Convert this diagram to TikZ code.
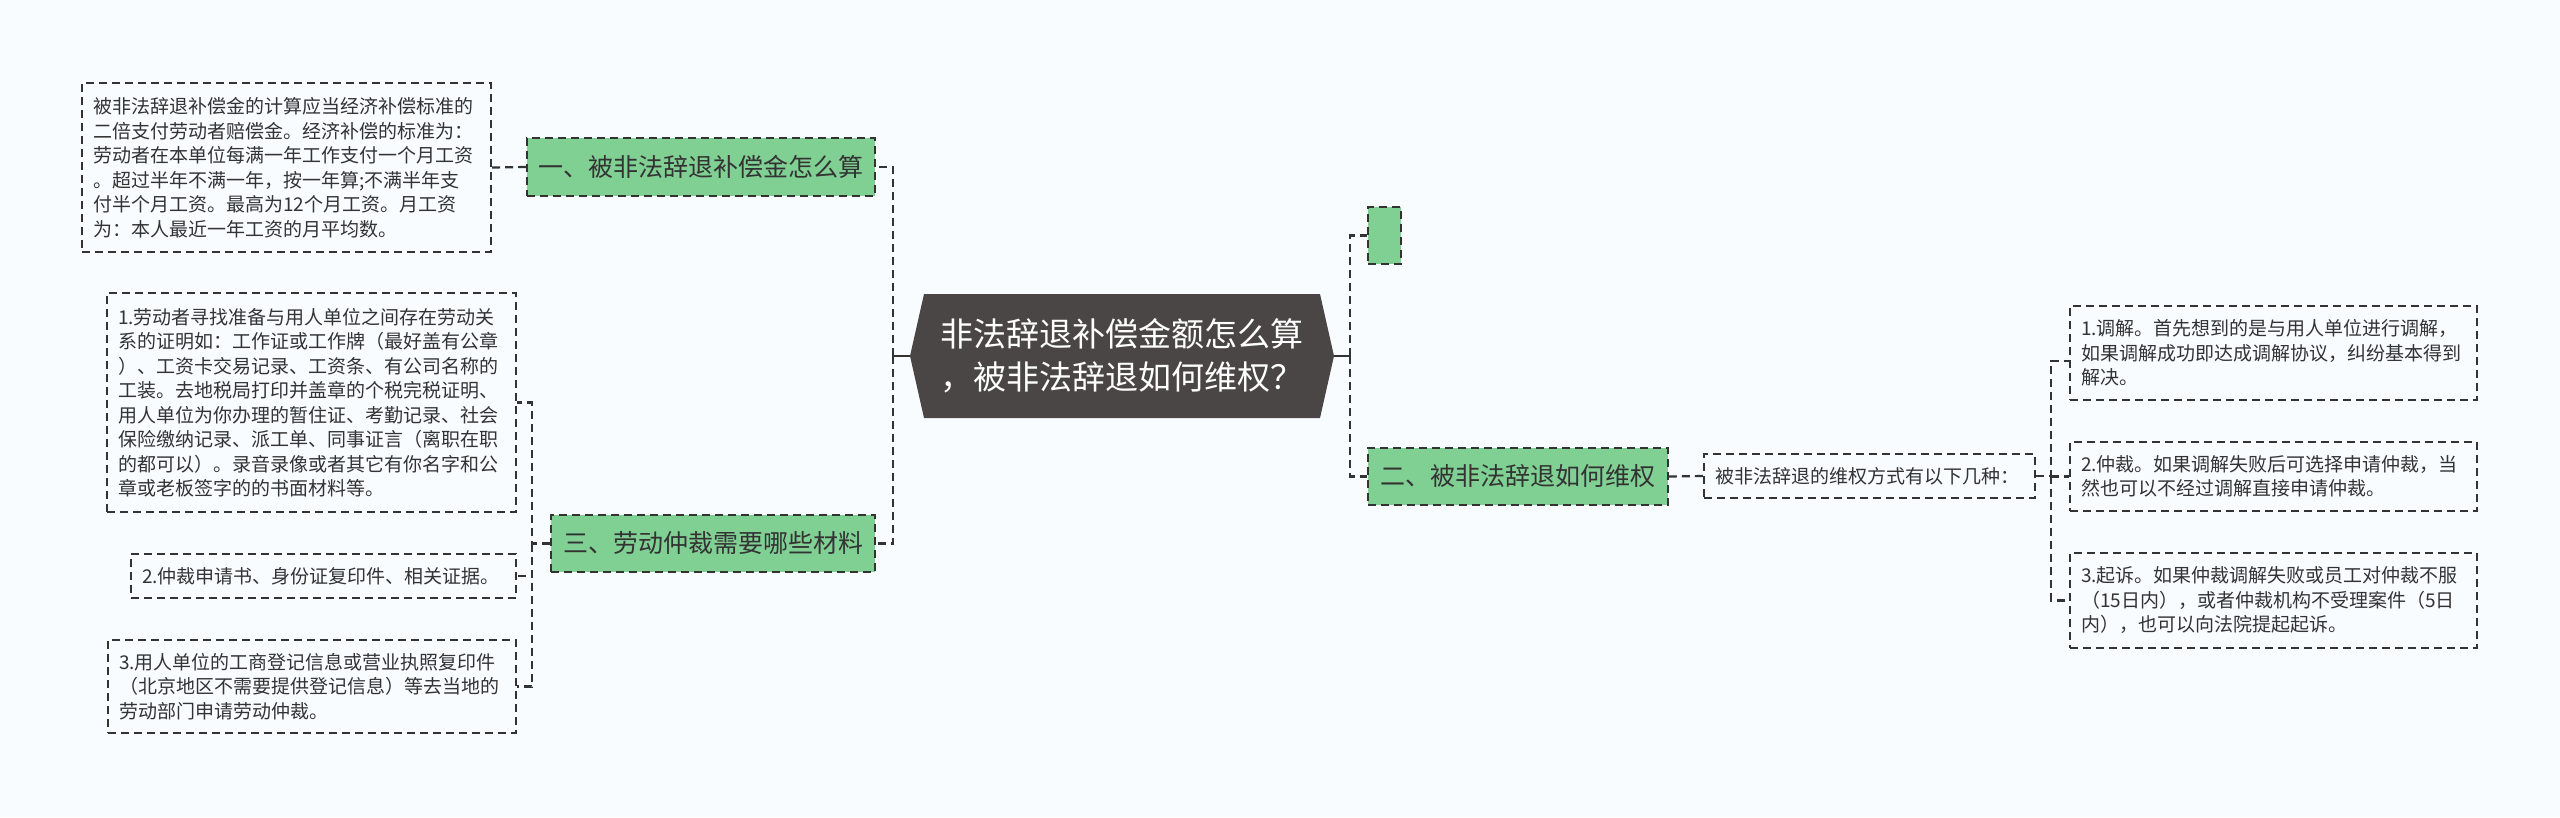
\documentclass[tikz,border=0pt]{standalone}
\usepackage{fontspec}
\setmainfont{Noto Sans CJK SC}
\usetikzlibrary{calc}
\definecolor{bgc}{HTML}{F8FCFF}
\definecolor{greenc}{HTML}{80CF93}
\definecolor{rootc}{HTML}{4A4646}
\definecolor{linec}{HTML}{333333}
\definecolor{txtc}{HTML}{333333}
\tikzset{
  dsh/.style={dash pattern=on 8pt off 5pt},
  conn/.style={draw=linec, line width=2.2pt, dsh},
  rootlink/.style={draw=linec, line width=2.4pt},
  textbox/.style={draw=linec, line width=1.8pt, dsh, text=txtc, align=left,
    inner xsep=11pt, inner ysep=0pt, font=\fontsize{19}{24.5}\selectfont},
  greenbox/.style={draw=linec, line width=1.8pt, dsh, fill=greenc, text=txtc,
    inner sep=0pt, font=\fontsize{25}{30}\selectfont},
  rootbox/.style={inner sep=0pt, text=white, align=left,
    minimum width=424pt, minimum height=124pt,
    font=\fontsize{33}{43}\selectfont,
    path picture={\fill[rootc]
      (path picture bounding box.west) --
      ([xshift=14pt]path picture bounding box.north west) --
      ([xshift=-14pt]path picture bounding box.north east) --
      (path picture bounding box.east) --
      ([xshift=-14pt]path picture bounding box.south east) --
      ([xshift=14pt]path picture bounding box.south west) -- cycle;}}
}
\begin{document}
\begin{tikzpicture}[x=1pt,y=-1pt]
\fill[bgc] (0,0) rectangle (2560,817);
\useasboundingbox (0,0) rectangle (2560,817);

% root
\node[rootbox] (root) at (1122,356) {非法辞退补偿金额怎么算\\，被非法辞退如何维权？};

% spines
\coordinate (spL) at (893,0);
\coordinate (spL2) at (532,0);
\coordinate (spR) at (1350,0);
\coordinate (spR2) at (2051,0);

% left branch nodes
\node[greenbox, minimum width=348pt, minimum height=58pt] (g1) at (701,167) {一、被非法辞退补偿金怎么算};
\node[greenbox, minimum width=324pt, minimum height=57pt] (g3) at (713,543.5) {三、劳动仲裁需要哪些材料};

\node[textbox, text width=387pt, minimum height=169pt] (tb1) at (286.5,167.5) {被非法辞退补偿金的计算应当经济补偿标准的\\二倍支付劳动者赔偿金。经济补偿的标准为：\\劳动者在本单位每满一年工作支付一个月工资\\。超过半年不满一年，按一年算;不满半年支\\付半个月工资。最高为12个月工资。月工资\\为：本人最近一年工资的月平均数。};

\node[textbox, text width=387pt, minimum height=219pt] (tb2) at (311.5,402.5) {1.劳动者寻找准备与用人单位之间存在劳动关\\系的证明如：工作证或工作牌（最好盖有公章\\）、工资卡交易记录、工资条、有公司名称的\\工装。去地税局打印并盖章的个税完税证明、\\用人单位为你办理的暂住证、考勤记录、社会\\保险缴纳记录、派工单、同事证言（离职在职\\的都可以）。录音录像或者其它有你名字和公\\章或老板签字的的书面材料等。};

\node[textbox, text width=363pt, minimum height=44pt] (tb3) at (323.5,576) {2.仲裁申请书、身份证复印件、相关证据。};

\node[textbox, text width=386pt, minimum height=93pt] (tb4) at (312,686.5) {3.用人单位的工商登记信息或营业执照复印件\\（北京地区不需要提供登记信息）等去当地的\\劳动部门申请劳动仲裁。};

% right branch nodes
\node[greenbox, minimum width=33pt, minimum height=57pt] (g0) at (1384.5,235.5) {};
\node[greenbox, minimum width=300pt, minimum height=57pt] (g2) at (1518,476.5) {二、被非法辞退如何维权};

\node[textbox, text width=309pt, minimum height=44pt] (tb5) at (1869.5,476) {被非法辞退的维权方式有以下几种：};

\node[textbox, text width=385pt, minimum height=94pt] (r1) at (2273.5,353) {1.调解。首先想到的是与用人单位进行调解，\\如果调解成功即达成调解协议，纠纷基本得到\\解决。};
\node[textbox, text width=385pt, minimum height=69pt] (r2) at (2273.5,476.5) {2.仲裁。如果调解失败后可选择申请仲裁，当\\然也可以不经过调解直接申请仲裁。};
\node[textbox, text width=385pt, minimum height=95pt] (r3) at (2273.5,600.5) {3.起诉。如果仲裁调解失败或员工对仲裁不服\\（15日内），或者仲裁机构不受理案件（5日\\内），也可以向法院提起起诉。};

% connectors: root left
\draw[rootlink] (root.west) -- (root.west -| spL);
\draw[conn] (root.west -| spL) |- (g1.east);
\draw[conn] (root.west -| spL) |- (g3.east);
\draw[conn] (g1.west) -- (tb1.east);
\draw[conn] (g3.west) -- (g3.west -| spL2) |- (tb2.east);
\draw[conn] (g3.west -| spL2) |- (tb3.east);
\draw[conn] (g3.west -| spL2) |- (tb4.east);

% connectors: root right
\draw[rootlink] (root.east) -- (root.east -| spR);
\draw[conn] (root.east -| spR) |- (g0.west);
\draw[conn] (root.east -| spR) |- (g2.west);
\draw[conn] (g2.east) -- (tb5.west);
\draw[conn] (tb5.east) -- (tb5.east -| spR2) |- ([yshift=-8pt]r1.west);
\draw[conn] (tb5.east -| spR2) |- (r2.west);
\draw[conn] (tb5.east -| spR2) |- (r3.west);
\end{tikzpicture}
\end{document}
